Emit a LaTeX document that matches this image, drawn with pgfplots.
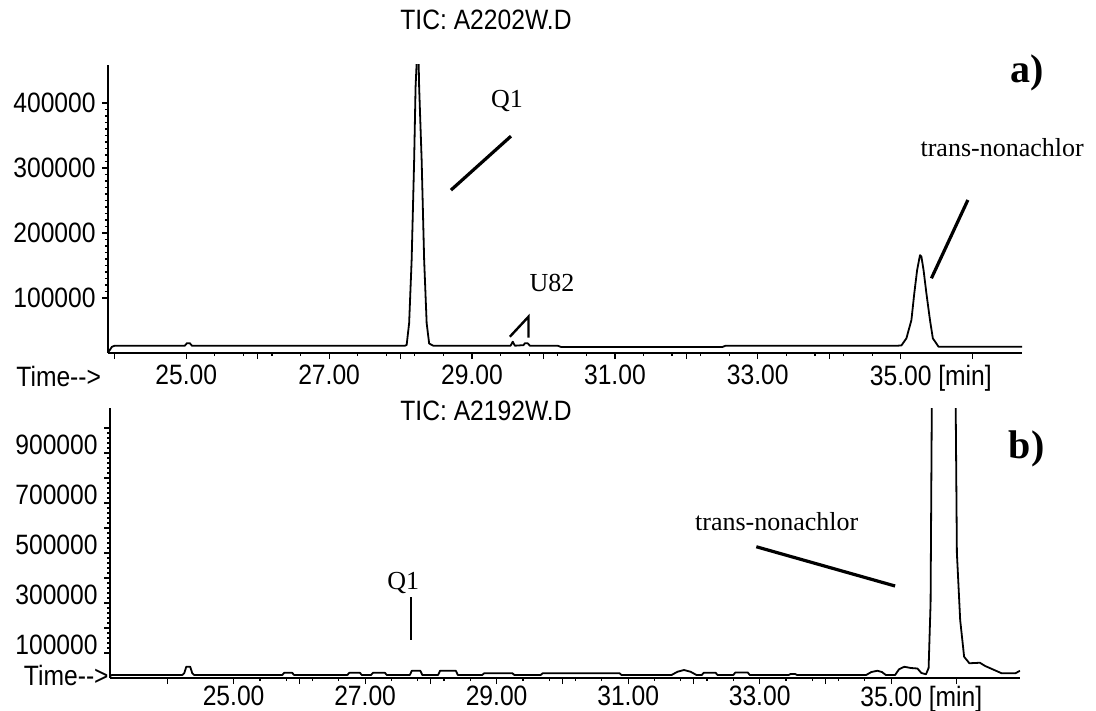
\documentclass[border=0pt]{standalone}
\usepackage{fontspec}
\setmainfont{Liberation Sans}[FakeStretch=0.88]
\newfontfamily\tnr{Liberation Serif}
\usepackage{pgfplots}
\pgfplotsset{compat=1.18}

\pgfplotsset{
  chrom/.style={
    scale only axis, axis lines*=left, clip mode=individual,
    axis line style={line width=0.8pt},
    tick align=outside, tick style={line width=0.6pt, black},
    major tick length=3pt, minor tick length=1.5pt,
    scaled ticks=false,
    tick label style={font=\fontsize{14}{16}\selectfont},
    xticklabel style={anchor=north, inner sep=0pt, yshift=-3pt},
    yticklabel style={anchor=east, inner sep=0pt, xshift=-3pt},
    xtick={25,27,29,31,33,35},
    xticklabels={25.00,27.00,29.00,31.00,33.00,{35.00\rlap{\ [min]}}},
    extra x ticks={24,26,28,30,32,34,36}, extra x tick labels={},
    minor x tick num=4,
  },
}
\tikzset{
  trace/.style={black, line width=0.9pt, line join=round},
  pointer/.style={black, line width=1.6pt},
  ann/.style={font=\tnr\fontsize{13}{15}\selectfont},
  tag/.style={font=\tnr\bfseries\fontsize{20}{22}\selectfont},
}

\begin{document}
\begin{tikzpicture}
\useasboundingbox (0,0) rectangle (548pt,-355.5pt);

% a) TIC: A2202W.D
\begin{axis}[chrom, at={(54pt,-176.5pt)}, anchor=south west,
  width=457pt, height=144pt,
  xmin=23.905, xmax=36.698, ymin=15400, ymax=458500,
  ytick={100000,200000,300000,400000},
  yticklabels={100000,200000,300000,400000},
  minor y tick num=9]
\addplot[trace] coordinates {
(23.905,16000) (23.93,20000) (23.96,25000) (24.0,26600) (24.98,26600)
(25.01,30500) (25.05,30500) (25.08,26600) (28.06,26600) (28.085,27700)
(28.12,61500) (28.155,158500) (28.19,312000) (28.21,424600) (28.225,461500)
(28.253,461500) (28.26,424600) (28.295,312000) (28.33,158500) (28.365,61500)
(28.40,30000) (28.457,26600) (29.54,26600) (29.57,32800) (29.60,26600)
(29.72,27500) (29.74,30300) (29.78,30300) (29.81,26600) (30.2,26600)
(30.25,24500) (32.5,24500) (32.55,26600) (34.95,26600) (35.01,27000)
(35.08,38000) (35.15,66000) (35.19,107000) (35.23,143000) (35.27,166000)
(35.29,163600) (35.32,143000) (35.36,107000) (35.41,66000) (35.45,38000)
(35.53,25000) (36.698,25000)
};
\node[ann] at (axis cs:29.49,403000) {Q1};
\draw[pointer] (axis cs:28.705,266000) -- (axis cs:29.545,349000);
\node[ann] at (axis cs:30.12,123000) {U82};
\draw[pointer, line width=1.2pt] (axis cs:29.53,40500) -- (axis cs:29.79,71200) -- (axis cs:29.79,38900);
\node[ann] at (axis cs:36.42,332000) {trans-nonachlor};
\draw[pointer] (axis cs:35.94,250800) -- (axis cs:35.43,130300);
\node[tag] at (axis cs:36.77,446000) {a)};
\end{axis}

% b) TIC: A2192W.D
\begin{axis}[chrom, at={(55pt,-339pt)}, anchor=south west,
  width=455pt, height=135pt,
  xmin=23.12, xmax=36.96, ymin=0, ymax=1080000,
  ytick={100000,200000,300000,400000,500000,600000,700000,800000,900000,1000000},
  yticklabels={100000,,300000,,500000,,700000,,900000,},
  yticklabel style={yshift=4pt},
  xticklabel style={yshift=2pt},
  minor y tick num=4]
\addplot[trace] coordinates {
(23.12,8000) (23.15,12000) (24.22,12000) (24.25,20000) (24.28,45000)
(24.34,45000) (24.37,20000) (24.40,12000) (25.74,12000) (25.77,21000)
(25.89,21000) (25.92,12000) (26.73,12000) (26.76,21000) (26.92,21000)
(26.95,12000) (27.09,12000) (27.12,21000) (27.30,21000) (27.33,12000)
(27.68,12000) (27.71,29000) (27.84,29000) (27.87,12000) (28.11,12000)
(28.14,29000) (28.38,29000) (28.41,12000) (28.78,12000) (28.81,19000)
(29.24,19000) (29.27,12000) (29.67,12000) (29.70,19000) (30.87,19000)
(30.90,12000) (31.66,12000) (31.75,25000) (31.85,32000) (31.95,25000)
(32.04,12000) (32.12,12000) (32.15,21000) (32.33,21000) (32.36,12000)
(32.60,12000) (32.63,22000) (32.82,22000) (32.85,12000) (33.44,12000)
(33.47,16000) (33.54,16000) (33.57,12000) (34.62,12000) (34.70,24000)
(34.79,29000) (34.86,24000) (34.92,12000) (35.06,12000) (35.12,35000)
(35.20,45000) (35.30,40000) (35.40,38000) (35.46,20000) (35.53,15000)
(35.57,40000) (35.60,300000) (35.62,1150000) (35.98,1150000) (36.00,500000)
(36.05,232000) (36.11,85000) (36.19,59000) (36.35,61000) (36.43,48000)
(36.68,19000) (36.89,19000) (36.96,29000)
};
\node[ann] at (axis cs:27.58,380000) {Q1};
\draw[pointer, line width=1.2pt] (axis cs:27.70,324000) -- (axis cs:27.70,152000);
\node[ann] at (axis cs:33.26,624000) {trans-nonachlor};
\draw[pointer] (axis cs:32.95,525000) -- (axis cs:35.06,368000);
\node[tag] at (axis cs:37.06,916000) {b)};
\end{axis}

\node[font=\fontsize{14}{16}\selectfont] at (243pt,-10pt) {TIC: A2202W.D};
\node[font=\fontsize{14}{16}\selectfont] at (243pt,-205.5pt) {TIC: A2192W.D};
\node[font=\fontsize{14}{16}\selectfont, anchor=west, inner sep=0pt] at (8pt,-188pt) {Time-{}-{}>};
\node[font=\fontsize{14}{16}\selectfont, anchor=east, inner sep=0pt] at (54.5pt,-337.5pt) {Time-{}-{}>};
\end{tikzpicture}
\end{document}
